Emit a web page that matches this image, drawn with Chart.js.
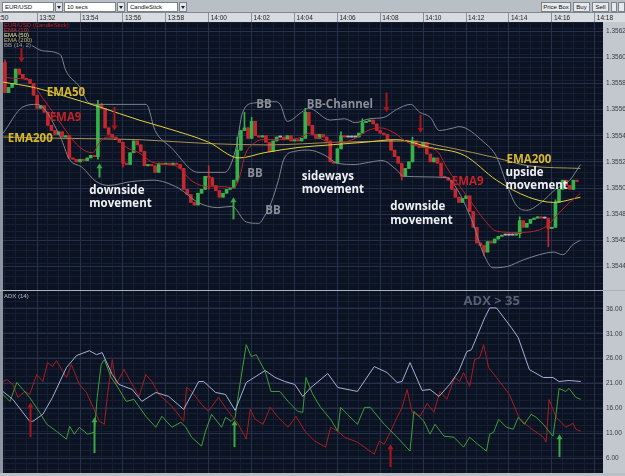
<!DOCTYPE html>
<html lang="en">
<head>
<meta charset="utf-8">
<title>EUR/USD 10 secs - EMA, BB, ADX</title>
<script src="https://cdn.jsdelivr.net/npm/chart.js@4.4.1/dist/chart.umd.min.js"></script>
<style>
  html, body { margin: 0; padding: 0; }
  body {
    position: relative; width: 625px; height: 476px; overflow: hidden;
    background: #c3c8ce; font-family: "Liberation Sans", Arial, sans-serif;
  }
  .box { position: absolute; box-sizing: border-box; }
  #toolbar { left: 0; top: 0; width: 625px; height: 13px; background: #b9bfc6; border-bottom: 1px solid #7e8690; }
  .field { top: 2px; height: 10px; background: #fff; border: 1px solid #7a828c; font-size: 6px; line-height: 8px; padding-left: 2px; color: #111; white-space: nowrap; }
  .drop { top: 2px; height: 10px; width: 8px; background: #e4e6e9; border: 1px solid #7a828c; }
  .drop::after { content: ""; position: absolute; left: 1px; top: 3px; border-left: 2px solid transparent; border-right: 2px solid transparent; border-top: 3px solid #222; }
  .btn { top: 2px; height: 10px; background: #e7e9ec; border: 1px solid #7a828c; font-size: 6px; line-height: 8px; text-align: center; color: #111; white-space: nowrap; }
  #timeStrip { left: 0; top: 13px; width: 625px; height: 9px; background: #d8dce1; overflow: hidden; }
  #timeStrip span { position: absolute; left: -8px; top: 1px; font-size: 6.5px; color: #222; }
  #leftEdge { left: 0; top: 22px; width: 3px; height: 451px; background: #8d95a0; }
  #divider { left: 0; top: 290px; width: 625px; height: 1px; background: #a9b1bc; z-index: 3; }
  #bottomEdge { left: 0; top: 473px; width: 625px; height: 3px; background: #b9bfc6; }
  canvas { position: absolute; left: 0; z-index: 1; }
  .legend { position: absolute; z-index: 2; font-size: 6px; line-height: 5px; white-space: nowrap; }
</style>
</head>
<body>
<div id="toolbar" class="box">
  <div class="box field" style="left:2px;width:52px">EUR/USD</div>
  <div class="box drop" style="left:55px"></div>
  <div class="box field" style="left:64px;width:52px">10 secs</div>
  <div class="box drop" style="left:117px"></div>
  <div class="box field" style="left:127px;width:51px">CandleStick</div>
  <div class="box drop" style="left:179px"></div>
  <div class="box btn" style="left:541px;width:30px">Price Box</div>
  <div class="box btn" style="left:573px;width:17px">Buy</div>
  <div class="box btn" style="left:592px;width:17px">Sell</div>
  <div class="box btn" style="left:611px;width:6px"></div>
  <div class="box btn" style="left:618px;width:7px"></div>
</div>
<div id="timeStrip" class="box"><span>13:50</span></div>
<div id="leftEdge" class="box"></div>
<div id="bottomEdge" class="box"></div>

<canvas id="priceChart" width="625" height="278" style="top:13px"></canvas>
<canvas id="adxChart" width="625" height="185" style="top:291px"></canvas>
<div id="divider" class="box"></div>

<div class="legend" style="left:4px;top:23px">
  <div style="color:#c42127">EUR/USD (CandleStick)</div>
  <div style="color:#d0343a">EMA (10)</div>
  <div style="color:#ece58c">EMA (50)</div>
  <div style="color:#c9b072">EMA (200)</div>
  <div style="color:#9aa0aa">BB (14, 2)</div>
</div>
<div class="legend" style="left:4px;top:294px;color:#b9bed0">ADX (14)</div>

<script>
// values (10 second candles, index 0 = 13:50:30)
const timeLabels = ['13:52', '13:54', '13:56', '13:58', '14:00', '14:02', '14:04',
  '14:06', '14:08', '14:10', '14:12', '14:14', '14:16', '14:18'];

const firstOpen = 1.35596;
const closes = [
  1.35573, 1.35577, 1.35580, 1.35591, 1.35587, 1.35584, 1.35583, 1.35580, 1.35571, 1.35561,
  1.35563, 1.35558, 1.35548, 1.35544, 1.35541, 1.35543, 1.35539, 1.35540, 1.35523, 1.35522,
  1.35520, 1.35522, 1.35521, 1.35523, 1.35525, 1.35524, 1.35564, 1.35561, 1.35546, 1.35541,
  1.35539, 1.35537, 1.35535, 1.35519, 1.35518, 1.35527, 1.35536, 1.35533, 1.35528, 1.35517,
  1.35518, 1.35517, 1.35512, 1.35519, 1.35518, 1.35519, 1.35518, 1.35519, 1.35518, 1.35515,
  1.35499, 1.35495, 1.35489, 1.35487, 1.35496, 1.35499, 1.35509, 1.35508, 1.35502, 1.35498,
  1.35493, 1.35496, 1.35499, 1.35500, 1.35506, 1.35529, 1.35544, 1.35546, 1.35538, 1.35551,
  1.35540, 1.35539, 1.35540, 1.35535, 1.35528, 1.35536, 1.35539, 1.35539, 1.35537, 1.35540,
  1.35536, 1.35537, 1.35536, 1.35538, 1.35558, 1.35548, 1.35541, 1.35538, 1.35541, 1.35539,
  1.35536, 1.35520, 1.35519, 1.35530, 1.35540, 1.35539, 1.35539, 1.35539, 1.35539, 1.35542,
  1.35550, 1.35551, 1.35552, 1.35549, 1.35544, 1.35542, 1.35541, 1.35537, 1.35529, 1.35524,
  1.35519, 1.35509, 1.35515, 1.35520, 1.35536, 1.35533, 1.35531, 1.35535, 1.35526, 1.35520,
  1.35523, 1.35519, 1.35509, 1.35508, 1.35506, 1.35499, 1.35493, 1.35489, 1.35492, 1.35494,
  1.35482, 1.35470, 1.35458, 1.35456, 1.35451, 1.35459, 1.35458, 1.35461, 1.35463, 1.35464,
  1.35464, 1.35464, 1.35464, 1.35465, 1.35475, 1.35470, 1.35473, 1.35476, 1.35477, 1.35478,
  1.35477, 1.35477, 1.35469, 1.35470, 1.35489, 1.35499, 1.35506, 1.35502, 1.35499, 1.35506,
  1.35505
];
// [candle index, price] for wicks that reach past the body
const upperWicks = [[0, 1.35598], [26, 1.35567], [27, 1.35565], [57, 1.35517], [65, 1.35539],
  [67, 1.35558], [69, 1.35554], [84, 1.35561], [94, 1.35543], [100, 1.35553], [114, 1.35539],
  [144, 1.35478], [154, 1.35491]];
const lowerWicks = [[26, 1.35522], [33, 1.35516], [57, 1.35499], [65, 1.35504], [111, 1.35506],
  [134, 1.35448], [144, 1.35462], [152, 1.35455]];

// indicator lines, [candle index, value]
const ema10 = [[-0.5, 1.35585], [2, 1.35584], [6, 1.35583], [8, 1.35579], [10.5, 1.35569], [14.5, 1.35554],
  [17, 1.35544], [21, 1.35531], [24.5, 1.35527], [26.5, 1.35535], [28.5, 1.35539], [31, 1.35538],
  [34, 1.35531], [37.5, 1.35527], [41, 1.35520], [45, 1.35518], [48.5, 1.35516], [52, 1.35506],
  [57, 1.35501], [61.5, 1.35501], [64, 1.35500], [66, 1.35512], [67, 1.35524], [70, 1.35535],
  [72.5, 1.35537], [78.5, 1.35537], [83, 1.35539], [85, 1.35542], [87.5, 1.35539], [91, 1.35535],
  [94, 1.35535], [98, 1.35538], [101.5, 1.35544], [105, 1.35546], [109, 1.35542], [112.5, 1.35535],
  [117, 1.35531], [121, 1.35528], [123.5, 1.35516], [126.5, 1.35504], [130, 1.35491], [134, 1.35476],
  [137.5, 1.35467], [143, 1.35466], [149.5, 1.35468], [152, 1.35472], [155, 1.35481], [158, 1.35489],
  [161, 1.35496]];
const ema50 = [[-0.5, 1.35581], [8, 1.35577], [17, 1.35570], [26.5, 1.35562], [37.5, 1.35552],
  [45, 1.35546], [57, 1.35535], [65.5, 1.35523], [72.5, 1.35527], [82, 1.35531], [91, 1.35533],
  [100.5, 1.35535], [109.5, 1.35537], [119, 1.35531], [128.5, 1.35525], [137.5, 1.35506],
  [146.5, 1.35493], [153.5, 1.35489], [161, 1.35493]];
const ema200 = [[-0.5, 1.35539], [17, 1.35538], [37.5, 1.35537], [57, 1.35534], [73.5, 1.35533],
  [93, 1.35535], [112.5, 1.35536], [124, 1.35531], [137.5, 1.35523], [146.5, 1.35517], [161, 1.35515]];
const bbUpper = [[7.5, 1.35609], [10.5, 1.35605], [15.5, 1.35602], [17, 1.35590], [21, 1.35577],
  [23.5, 1.35565], [26.5, 1.35564], [39.5, 1.35564], [42, 1.35544], [46.5, 1.35531], [54, 1.35512],
  [61.5, 1.35512], [64.5, 1.35529], [66.5, 1.35558], [69.5, 1.35565], [75.5, 1.35566], [77, 1.35564],
  [79, 1.35551], [83, 1.35558], [85, 1.35561], [91, 1.35552], [95, 1.35553], [98, 1.35550],
  [102, 1.35553], [106, 1.35554], [109.5, 1.35560], [113.5, 1.35564], [116, 1.35558], [119, 1.35554],
  [121.5, 1.35544], [125.5, 1.35546], [127, 1.35547], [134, 1.35535], [137.5, 1.35524],
  [140.5, 1.35502], [143, 1.35487], [146, 1.35483], [150, 1.35489], [154, 1.35499], [158, 1.35506],
  [161, 1.35518]];
const bbLower = [[-0.5, 1.35542], [5, 1.35562], [9, 1.35564], [15.5, 1.35539], [18, 1.35522],
  [21.5, 1.35516], [25.5, 1.35505], [29, 1.35502], [35.5, 1.35505], [41.5, 1.35506], [48.5, 1.35500],
  [54, 1.35489], [59.5, 1.35485], [63.5, 1.35486], [67.5, 1.35474], [71, 1.35473], [72.5, 1.35478],
  [74.5, 1.35489], [76.5, 1.35506], [78, 1.35522], [81, 1.35528], [85, 1.35529], [89.5, 1.35525],
  [93, 1.35519], [98, 1.35518], [100.5, 1.35519], [105.5, 1.35521], [109.5, 1.35514], [111.5, 1.35509],
  [123.5, 1.35508], [126.5, 1.35499], [130.5, 1.35476], [134, 1.35449], [136.5, 1.35439],
  [140.5, 1.35440], [145, 1.35445], [149.5, 1.35449], [153.5, 1.35451], [156, 1.35449],
  [159, 1.35457], [161, 1.35460]];
const priceTicks = [1.3544, 1.3546, 1.3548, 1.3550, 1.3552, 1.3554, 1.3556, 1.3558, 1.3560, 1.3562];

const adx = [[-0.6, 19.4], [2.2, 17.8], [6.9, 13.4], [7.8, 13.4], [10.6, 14.8], [13.3, 18.2], [17.2, 24.2],
  [20, 26.6], [23.6, 27.6], [25.6, 26.8], [27.2, 27.2], [30, 22.8], [31.9, 20.8], [35.6, 19.8],
  [38.3, 17.4], [42.2, 19.2], [45.8, 18.4], [50, 15.8], [54.2, 21.4], [55.6, 21.4], [58.9, 19.2],
  [61.7, 18.8], [64.4, 15.6], [67.5, 21.2], [72.8, 23.6], [75.6, 22.2], [78.3, 21.4], [81.1, 20.8],
  [83.3, 18.4], [85.6, 20.2], [90.3, 23], [93.1, 20.2], [98.6, 19.4], [103.3, 24.4], [106.9, 23.2],
  [109.7, 21.2], [111.1, 21.4], [113.3, 25.2], [116.7, 19.6], [118.9, 19.8], [121.4, 18.4],
  [124.4, 20.8], [126.9, 23.4], [129.2, 27.4], [130.5, 27.8], [134.2, 34.2], [135.6, 36.2],
  [137.5, 36.2], [141.7, 32.2], [143.6, 30.2], [146.7, 23.8], [150.6, 22.2], [153.3, 22.2],
  [155, 21.4], [157.8, 21.6], [161.1, 21.4]];
const diMinus = [[-0.6, 21.4], [0.6, 21.8], [2.2, 20.8], [3.6, 18.2], [5.6, 19.4], [6.9, 18.8], [8.9, 22.8],
  [10.6, 21.4], [11.9, 25.2], [13.3, 24.4], [14.4, 25.6], [17.2, 22.2], [18.6, 24.8], [20.8, 20.8],
  [22.8, 19.2], [26.4, 13.4], [27.8, 12.8], [28.6, 18.2], [30, 25.8], [31.1, 20.8], [33.3, 23.8],
  [35.6, 20.8], [37.5, 18.4], [39.4, 22.8], [41.1, 21.4], [43.1, 18.8], [46.7, 16.4], [50, 13.4],
  [50.8, 20.2], [52.2, 19.4], [55, 16.8], [56.9, 15.4], [59.7, 18.2], [62.5, 15.4], [65.3, 12.8],
  [67.5, 9.8], [68.6, 15.8], [70, 13.8], [72.2, 12.8], [74.2, 16.2], [76.4, 14.2], [79.2, 12.2],
  [81.4, 14.4], [83.9, 11.4], [86.7, 9.4], [89.7, 8.2], [91.1, 12.2], [93.1, 11.4], [95, 10.2],
  [98.6, 9.2], [103.3, 6.8], [104.7, 9.4], [106.1, 8.8], [107.8, 11.2], [109.7, 14.2], [111.1, 16.2],
  [112.5, 19.8], [113.9, 15.2], [116.1, 14.4], [118.1, 17], [120, 15.2], [121.7, 19.4], [123.6, 17.8],
  [125.8, 22.2], [127.2, 21.4], [128.3, 23.2], [130, 20.4], [131.4, 25.8], [132.8, 26.2], [133.9, 28.8],
  [135.3, 24.2], [137.5, 22.2], [141.1, 18.8], [143.9, 14], [146.7, 12.2], [150.6, 10.2], [151.4, 9.2],
  [152.2, 17.8], [154.2, 14.2], [156.9, 12.2], [158.9, 13], [159.7, 11.8], [161.1, 11.4]];
const diPlus = [[-0.6, 18.8], [1.4, 17.4], [3.3, 21.2], [5, 19.8], [6.9, 18.2], [9.7, 15.2], [11.7, 12.8],
  [14.4, 11.4], [17.2, 9.8], [18.1, 12.4], [19.4, 10.8], [20.8, 12.2], [23.1, 10.8], [25, 11.2],
  [25.8, 18.2], [26.9, 24.8], [27.8, 25.8], [29.7, 22.2], [31.1, 20.8], [33.9, 17.4], [36.1, 17.8],
  [39.4, 14.4], [42.2, 12.2], [43.9, 14.4], [46.7, 12.2], [49.2, 13.2], [50.6, 12.2], [52.2, 10.2],
  [55, 8.4], [56.1, 11.4], [57.8, 14.8], [60.6, 12.2], [61.7, 14.2], [63.3, 13.4], [64.4, 14.2],
  [65.3, 18.8], [67.5, 28.8], [68.9, 26.4], [70.3, 26.8], [72.8, 23.4], [74.4, 19.4], [76.9, 19.4],
  [79.2, 17.4], [81.9, 15.4], [83.3, 15.2], [84.2, 22.2], [86.1, 18.8], [88.3, 16.2], [91.1, 13.8],
  [93.1, 11.4], [93.9, 16.2], [95.8, 14.8], [98.6, 12.8], [100.6, 16.2], [102.2, 16.2], [106.1, 12.8],
  [109.7, 10.2], [113.3, 7.4], [114.4, 15.4], [117.2, 13.4], [118.9, 10.8], [120.3, 12.8],
  [122.8, 10.4], [125.6, 10.2], [128.3, 8.2], [130, 10.2], [131.9, 9], [134.7, 7.4], [135.6, 10.8],
  [136.7, 11.2], [138.1, 13.8], [140.3, 12.2], [142.2, 11.8], [143.6, 14.2], [145.3, 12.8],
  [147.2, 14.8], [148.6, 14.2], [150.6, 12.8], [153.3, 10.4], [154.2, 15], [155, 20], [156.9, 19.4],
  [157.8, 20], [159.7, 18.2], [161.1, 17.8]];
const adxTicks = [6, 11, 16, 21, 26, 31, 36];

// ---- look ----
const UP = '#35b24a', DOWN = '#c3282e', FLAT = '#aab0b8';
const RED_TXT = '#c0232b', GOLD_TXT = '#d9b92c', WHITE_TXT = '#eef0f4', GREY_TXT = '#8a8f98';
const PLOT_BG = '#0b1221', MINOR = '#151e33', MAJOR = '#26304a';
const TICK_FONT = { family: 'Liberation Sans', size: 6.5 };
const X_MIN = -0.55, X_MAX = 167.3;

const opens = closes.map((c, i) => (i === 0 ? firstOpen : closes[i - 1]));
const hiMap = new Map(upperWicks), loMap = new Map(lowerWicks);
const bodies = closes.map((c, i) => ({ x: i, y: [opens[i], c] }));
const wicks = closes.map((c, i) => ({
  x: i,
  y: [Math.min(opens[i], c, loMap.has(i) ? loMap.get(i) : Infinity),
      Math.max(opens[i], c, hiMap.has(i) ? hiMap.get(i) : -Infinity)]
}));
const candleColor = ctx => {
  const i = ctx.dataIndex;
  return closes[i] > opens[i] ? UP : closes[i] < opens[i] ? DOWN : FLAT;
};
const pts = pairs => pairs.map(([x, y]) => ({ x, y }));

function fit(size) {
  return s => {
    if (s.isHorizontal()) s.height = size; else s.width = size;
    s.paddingTop = s.paddingBottom = s.paddingLeft = s.paddingRight = 0;
  };
}

function line(label, pairs, color, smooth) {
  return {
    type: 'line', label, data: pts(pairs), borderColor: color, borderWidth: 1,
    pointRadius: 0, order: 0, cubicInterpolationMode: smooth ? 'monotone' : 'default', tension: 0
  };
}

const panelBg = {
  id: 'panelBg',
  beforeDraw(chart) {
    const { ctx, chartArea: a } = chart;
    ctx.save();
    ctx.fillStyle = PLOT_BG;
    ctx.fillRect(a.left, a.top, a.right - a.left, a.bottom - a.top);
    ctx.restore();
  }
};

// arrows and hand-written notes, placed through the scales
const notes = {
  id: 'notes',
  afterDatasetsDraw(chart, args, opts) {
    const { ctx } = chart;
    const xs = chart.scales.x, ys = chart.scales.y;
    ctx.save();
    ctx.beginPath();
    ctx.rect(chart.chartArea.left, chart.chartArea.top, chart.chartArea.width, chart.chartArea.height);
    ctx.clip();
    (opts.arrows || []).forEach(([i, from, to, color]) => {
      const px = Math.round(xs.getPixelForValue(i)) + 0.5;
      const y0 = ys.getPixelForValue(from), y1 = ys.getPixelForValue(to);
      const dir = Math.sign(y1 - y0);
      ctx.strokeStyle = color;
      ctx.fillStyle = color;
      ctx.lineWidth = 2;
      ctx.beginPath();
      ctx.moveTo(px, y0);
      ctx.lineTo(px, y1 - dir * 4);
      ctx.stroke();
      ctx.beginPath();
      ctx.moveTo(px, y1);
      ctx.lineTo(px - 3, y1 - dir * 5);
      ctx.lineTo(px + 3, y1 - dir * 5);
      ctx.closePath();
      ctx.fill();
    });
    ctx.textAlign = 'left';
    ctx.textBaseline = 'middle';
    (opts.labels || []).forEach(([text, i, v, color, size]) => {
      ctx.font = 'bold ' + (size || 11.5) + 'px "Open Sans"';
      ctx.fillStyle = color;
      ctx.fillText(text, xs.getPixelForValue(i), ys.getPixelForValue(v));
    });
    ctx.restore();
  }
};

function minorAxes(yMin, yMax, yStep, xPos) {
  return {
    xMinor: {
      type: 'linear', axis: 'x', position: xPos, min: X_MIN, max: X_MAX, offset: false,
      ticks: { display: false, stepSize: 3, includeBounds: false },
      grid: { color: MINOR, drawTicks: false, offset: false }, border: { display: false }, afterFit: fit(0)
    },
    yMinor: {
      type: 'linear', axis: 'y', position: 'right', min: yMin, max: yMax,
      ticks: { display: false, stepSize: yStep, includeBounds: false },
      grid: { color: MINOR, drawTicks: false }, border: { display: false }, afterFit: fit(0)
    }
  };
}

const timeTicks = s => { s.ticks = timeLabels.map((_, k) => ({ value: 9 + 12 * k })); };

new Chart(document.getElementById('priceChart'), {
  type: 'line',
  data: {
    datasets: [
      line('EMA (10)', ema10, '#b8222a', true),
      line('EMA (50)', ema50, '#e2d13c', true),
      line('EMA (200)', ema200, '#a88f55', true),
      line('BB upper', bbUpper, '#7f848d', true),
      line('BB lower', bbLower, '#7f848d', true),
      { type: 'bar', label: 'EUR/USD', data: bodies, order: 1, grouped: false, barThickness: 3,
        minBarLength: 1, backgroundColor: candleColor, borderWidth: 0 },
      { type: 'bar', label: 'wicks', data: wicks, order: 2, grouped: false, barThickness: 1,
        minBarLength: 1, backgroundColor: candleColor, borderWidth: 0 }
    ]
  },
  options: {
    responsive: false, animation: false, events: [], devicePixelRatio: 1,
    layout: { padding: { left: 3, right: 0, top: 0, bottom: 1 } },
    plugins: {
      legend: { display: false }, tooltip: { enabled: false },
      notes: {
        arrows: [
          [4.4, 1.35607, 1.35596, '#a8161c'], [30.5, 1.35562, 1.35544, '#a8161c'],
          [106.7, 1.35573, 1.35558, '#a8161c'], [116.1, 1.35556, 1.35542, '#a8161c'],
          [26.4, 1.35508, 1.35519, '#3aa844'], [63.9, 1.35476, 1.35493, '#3aa844']
        ],
        labels: [
          ['EMA50', 11.7, 1.35573, GOLD_TXT], ['EMA9', 12.5, 1.35554, RED_TXT],
          ['EMA200', 0.8, 1.35538, GOLD_TXT],
          ['downside', 23.6, 1.35498, WHITE_TXT], ['movement', 23.6, 1.35488, WHITE_TXT],
          ['BB', 70.3, 1.35564, GREY_TXT], ['BB', 67.8, 1.35511, GREY_TXT], ['BB', 72.8, 1.35483, GREY_TXT],
          ['BB-Channel', 84.4, 1.35564, GREY_TXT],
          ['sideways', 83, 1.35509, WHITE_TXT], ['movement', 83, 1.35499, WHITE_TXT],
          ['downside', 107.8, 1.35486, WHITE_TXT], ['movement', 107.8, 1.35475, WHITE_TXT],
          ['EMA9', 125, 1.35505, RED_TXT], ['EMA200', 140.3, 1.35522, GOLD_TXT],
          ['upside', 140, 1.35512, WHITE_TXT], ['movement', 140, 1.35502, WHITE_TXT]
        ]
      }
    },
    scales: Object.assign(minorAxes(1.35422, 1.35627, 0.00005, 'top'), {
      x: {
        type: 'linear', position: 'top', min: X_MIN, max: X_MAX, offset: false,
        afterBuildTicks: timeTicks,
        ticks: { callback: (v, i) => timeLabels[i], align: 'start', labelOffset: 2, padding: -9,
          font: TICK_FONT, color: '#1e1e1e', maxRotation: 0, autoSkip: false },
        grid: { color: MAJOR, tickColor: '#8a919c', tickLength: 9, offset: false },
        border: { display: false }, afterFit: fit(9)
      },
      y: {
        type: 'linear', position: 'right', min: 1.35422, max: 1.35627,
        afterBuildTicks: s => { s.ticks = priceTicks.map(v => ({ value: v })); },
        ticks: { callback: v => v.toFixed(4), padding: 3, font: TICK_FONT, color: '#3a3d42' },
        grid: { color: MAJOR, drawTicks: false }, border: { display: false }, afterFit: fit(22)
      }
    })
  },
  plugins: [panelBg, notes]
});

new Chart(document.getElementById('adxChart'), {
  type: 'line',
  data: {
    datasets: [
      line('ADX', adx, '#a6aed6', false),
      line('+DI', diPlus, '#3f9e3b', false),
      line('-DI', diMinus, '#a61e22', false)
    ]
  },
  options: {
    responsive: false, animation: false, events: [], devicePixelRatio: 1,
    layout: { padding: { left: 3, right: 0, top: 0, bottom: 3 } },
    plugins: {
      legend: { display: false }, tooltip: { enabled: false },
      notes: {
        arrows: [
          [6.9, 10.2, 17.2, '#a8161c'], [25, 7.0, 14.2, '#3aa844'], [64.2, 8.2, 13.6, '#3aa844'],
          [107.8, 4.2, 8.8, '#a8161c'], [155, 6.2, 10.8, '#3aa844']
        ],
        labels: [['ADX > 35', 128.3, 37.6, '#566077', 13]]
      }
    },
    scales: Object.assign(minorAxes(3, 39.6, 1.25, 'bottom'), {
      x: {
        type: 'linear', position: 'bottom', min: X_MIN, max: X_MAX, offset: false,
        afterBuildTicks: timeTicks,
        ticks: { display: false },
        grid: { color: MAJOR, drawTicks: false, offset: false },
        border: { display: false }, afterFit: fit(0)
      },
      y: {
        type: 'linear', position: 'right', min: 3, max: 39.6,
        afterBuildTicks: s => { s.ticks = adxTicks.map(v => ({ value: v })); },
        ticks: { callback: v => v.toFixed(2), padding: 3, font: TICK_FONT, color: '#3a3d42' },
        grid: { color: MAJOR, drawTicks: false }, border: { display: false }, afterFit: fit(22)
      }
    })
  },
  plugins: [panelBg, notes]
});
</script>
</body>
</html>
